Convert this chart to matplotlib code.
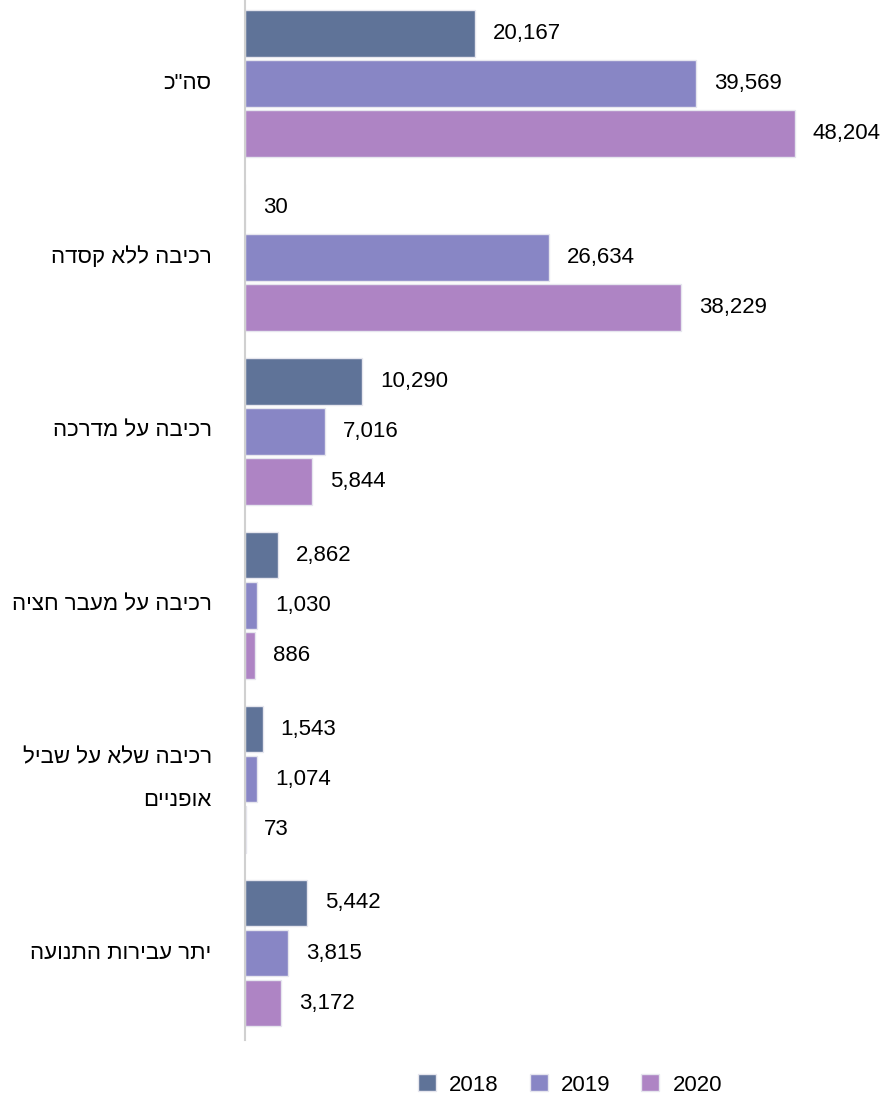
import numpy as np
import matplotlib
matplotlib.use("Agg")
import matplotlib.pyplot as plt
from matplotlib import font_manager

# fonts: a narrow face if there is one, DejaVu for anything missing
names = {f.name for f in font_manager.fontManager.ttflist}
fams = [f for f in ["Liberation Sans Narrow", "Liberation Sans", "DejaVu Sans"] if f in names]
plt.rcParams['font.family'] = fams

categories = ['סה"כ', 'רכיבה ללא קסדה', 'רכיבה על מדרכה', 'רכיבה על מעבר חציה',
              'רכיבה שלא על שביל\nאופניים', 'יתר עבירות התנועה']
years = ['2018', '2019', '2020']
v2018 = [20167, 30, 10290, 2862, 1543, 5442]
v2019 = [39569, 26634, 7016, 1030, 1074, 3815]
v2020 = [48204, 38229, 5844, 886, 73, 3172]
colors = ['#5f7398', '#8886c5', '#ae84c4']


def rtl(s):
    # matplotlib has no bidi: flip each line by hand
    return '\n'.join(line[::-1] for line in s.split('\n'))


fig = plt.figure(figsize=(8.88, 11.03), dpi=100)
ax = fig.add_axes([245 / 888, 1 - 1040 / 1103, 570 / 888, 1040 / 1103])

y = np.arange(len(categories))
step = 0.288
h = 0.268
for i, (vals, col, yr) in enumerate(zip([v2018, v2019, v2020], colors, years)):
    pos = y + (i - 1) * step
    ax.barh(pos, vals, height=h, color=col, edgecolor='#e6e6ee', linewidth=1, label=yr)
    for p, v in zip(pos, vals):
        ax.annotate(f'{v:,}', (v, p), xytext=(13, 0), textcoords='offset points',
                    ha='left', va='center', fontsize=16, color='black', annotation_clip=False)

ax.set_xlim(0, 50000)
ax.set_ylim(5.5, -0.48)
ax.set_yticks(y)
ax.set_yticklabels([rtl(c) for c in categories], fontsize=16, ha='right', va='center',
                   multialignment='right', linespacing=2.4)
ax.tick_params(axis='y', length=0, pad=24)
ax.set_xticks([])
for s in ['top', 'right', 'bottom']:
    ax.spines[s].set_visible(False)
ax.spines['left'].set_color('#d0d0d0')
ax.spines['left'].set_linewidth(1.5)

fig.legend(loc='center', bbox_to_anchor=(570 / 888, 1 - 1085 / 1103), ncol=3,
           frameon=False, fontsize=16, handlelength=0.8, handleheight=0.8,
           handletextpad=0.6, columnspacing=1.4)

fig.savefig('out.png', dpi=100)
